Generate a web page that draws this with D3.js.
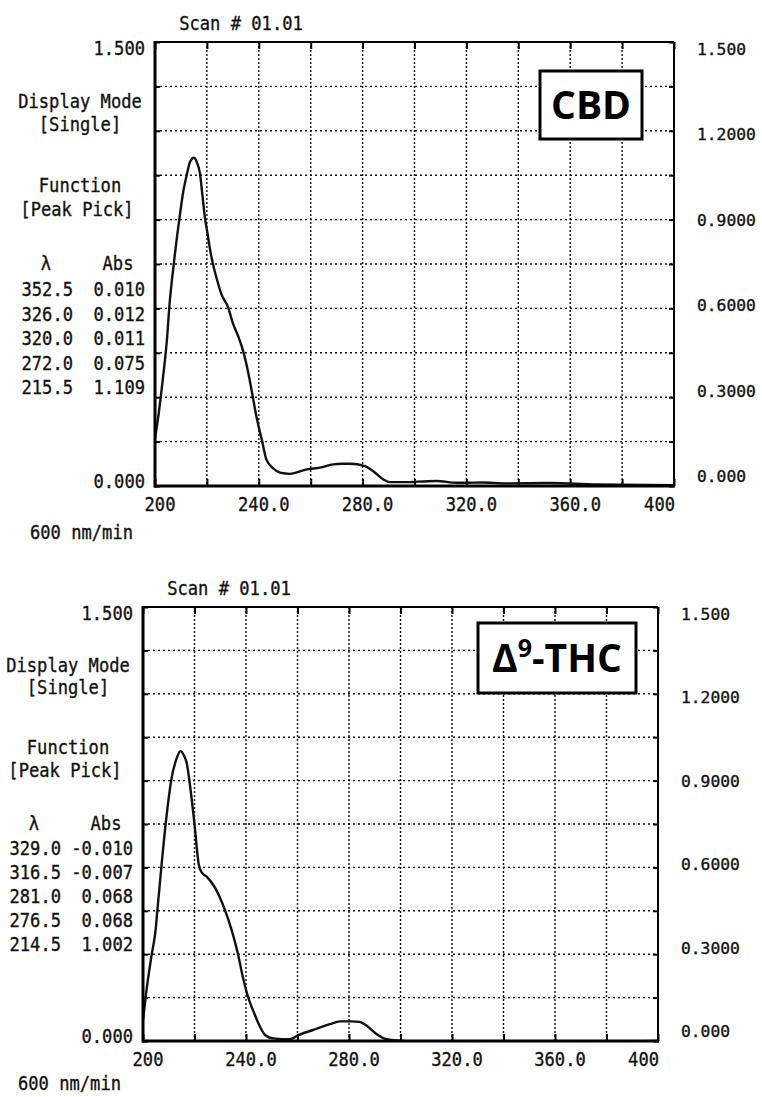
<!DOCTYPE html>
<html>
<head>
<meta charset="utf-8">
<script src="https://cdn.jsdelivr.net/npm/d3@7"></script>
<style>
  html, body { margin: 0; padding: 0; background: #fff; }
  svg { display: block; }
</style>
</head>
<body>
<svg id="chart" width="762" height="1097"></svg>
<script>
// ---------------- DATA ----------------
const wavelengthCBD = [200, 201.5, 203, 204.7, 205.5, 207.3, 209.4, 211, 212.4, 213.5, 215, 216.3, 217.3, 218.3, 219.3, 220.3, 221.2, 222.2, 223.8, 225.5, 228.2, 230, 232.1, 234, 236, 237.5, 239.2, 241.2, 242.9, 245.5, 248.2, 252, 258.5, 263.6, 268.7, 272, 275.1, 280.9, 284.1, 288, 290.6, 298, 300, 308.5, 316.2, 320, 326, 335, 352.5, 370, 400];
const absCBD = [0.16, 0.25, 0.36, 0.505, 0.603, 0.755, 0.903, 1.0, 1.057, 1.095, 1.109, 1.09, 1.057, 0.98, 0.903, 0.85, 0.80, 0.755, 0.70, 0.65, 0.603, 0.55, 0.505, 0.455, 0.38, 0.31, 0.23, 0.155, 0.09, 0.06, 0.045, 0.041, 0.056, 0.062, 0.073, 0.075, 0.075, 0.067, 0.05, 0.022, 0.013, 0.013, 0.014, 0.017, 0.011, 0.011, 0.012, 0.009, 0.010, 0.005, 0.003];

const wavelengthTHC = [200, 201, 202.2, 203.4, 204.9, 205.6, 207.2, 208.9, 211.1, 213, 214.5, 216, 217, 217.9, 219.9, 221.7, 223, 224.7, 228, 231.8, 234.4, 236.9, 238.8, 240.8, 243, 245.4, 247.5, 250.6, 257, 260.3, 266, 272.6, 276.5, 281, 284, 287, 290.8, 294.6, 298.5, 305, 316.5, 322, 329, 340, 360, 380, 400];
const absTHC = [0.07, 0.15, 0.23, 0.30, 0.384, 0.453, 0.608, 0.758, 0.908, 0.975, 1.002, 0.985, 0.96, 0.908, 0.758, 0.608, 0.58, 0.568, 0.529, 0.453, 0.384, 0.30, 0.22, 0.152, 0.10, 0.05, 0.02, 0.009, 0.006, 0.02, 0.038, 0.058, 0.068, 0.068, 0.066, 0.052, 0.023, 0.006, 0.002, -0.002, -0.007, -0.008, -0.010, -0.005, -0.003, -0.002, 0.0];

const xGridValues = [200, 220, 240, 260, 280, 300, 320, 340, 360, 380, 400];
const yGridValues = [0, 0.15, 0.3, 0.45, 0.6, 0.75, 0.9, 1.05, 1.2, 1.35, 1.5];
const xTickValues = [200, 240, 280, 320, 360, 400];
const xTickLabels = ["200", "240.0", "280.0", "320.0", "360.0", "400"];
const yRightValues = [1.5, 1.2, 0.9, 0.6, 0.3, 0];
const yRightLabels = ["1.500", "1.2000", "0.9000", "0.6000", "0.3000", "0.000"];

const peakLambdaCBD = ["352.5", "326.0", "320.0", "272.0", "215.5"];
const peakAbsCBD = ["0.010", "0.012", "0.011", "0.075", "1.109"];
const peakLambdaTHC = ["329.0", "316.5", "281.0", "276.5", "214.5"];
const peakAbsTHC = ["-0.010", "-0.007", "0.068", "0.068", "1.002"];

// ---------------- LAYOUT ----------------
const panels = [
  { x0: 155, x1: 674, y0: 42, y1: 486, wl: wavelengthCBD, ab: absCBD,
    peakL: peakLambdaCBD, peakA: peakAbsCBD, label: "CBD", rateDy: 53,
    box: { x: 540, y: 71, w: 102, h: 68 } },
  { x0: 143, x1: 658, y0: 607, y1: 1041, wl: wavelengthTHC, ab: absTHC,
    peakL: peakLambdaTHC, peakA: peakAbsTHC, label: "THC", rateDy: 49,
    box: { x: 478, y: 623, w: 158, h: 70 } }
];

const svg = d3.select("#chart");
const FONT = "'DejaVu Sans Mono', 'Liberation Mono', monospace";
const CHARW = 10.3;

function mono(g, str, x, y, anchor, cw, fs) {
  return g.append("text")
    .attr("x", x).attr("y", y)
    .attr("font-family", FONT)
    .attr("font-size", fs || 19.5)
    .attr("fill", "#111")
    .attr("stroke", "#111").attr("stroke-width", 0.35)
    .attr("text-anchor", anchor || "start")
    .attr("textLength", str.length * (cw || CHARW))
    .attr("lengthAdjust", "spacingAndGlyphs")
    .text(str);
}

panels.forEach((p, idx) => {
  const g = svg.append("g");
  const h = p.y1 - p.y0;
  const k = h / 444;
  const x = d3.scaleLinear().domain([200, 400]).range([p.x0, p.x1]);
  const y = d3.scaleLinear().domain([0, 1.5]).range([p.y1, p.y0]);
  const yLab = d3.scaleLinear().domain([0, 1.5]).range([p.y1 - 4, p.y0 + 13]);

  // grid
  g.append("g").selectAll("line").data(xGridValues.slice(1, -1)).join("line")
    .attr("x1", d => x(d)).attr("x2", d => x(d))
    .attr("y1", p.y0).attr("y2", p.y1)
    .attr("stroke", "#111").attr("stroke-width", 1.4)
    .attr("stroke-dasharray", "2,2");
  g.append("g").selectAll("line").data(yGridValues.slice(1, -1)).join("line")
    .attr("x1", p.x0).attr("x2", p.x1)
    .attr("y1", d => y(d)).attr("y2", d => y(d))
    .attr("stroke", "#111").attr("stroke-width", 1.4)
    .attr("stroke-dasharray", "2,3");

  // inward ticks
  const axStyle = sel => { sel.select(".domain").remove(); sel.selectAll("line").attr("stroke", "#000").attr("stroke-width", 2); };
  g.append("g").attr("transform", `translate(0,${p.y1})`)
    .call(d3.axisBottom(x).tickValues(xGridValues).tickSize(-7).tickFormat(""))
    .call(axStyle);
  g.append("g").attr("transform", `translate(0,${p.y0})`)
    .call(d3.axisTop(x).tickValues(xGridValues).tickSize(-7).tickFormat(""))
    .call(axStyle);
  g.append("g").attr("transform", `translate(${p.x0},0)`)
    .call(d3.axisLeft(y).tickValues(yGridValues).tickSize(-5).tickFormat(""))
    .call(axStyle);
  g.append("g").attr("transform", `translate(${p.x1},0)`)
    .call(d3.axisRight(y).tickValues(yGridValues).tickSize(-5).tickFormat(""))
    .call(axStyle);

  // curve
  const clipId = "clip" + idx;
  svg.append("defs").append("clipPath").attr("id", clipId)
    .append("rect").attr("x", p.x0).attr("y", p.y0 - 2).attr("width", p.x1 - p.x0).attr("height", h + 1);
  const pts = p.wl.map((w, i) => [w, p.ab[i]]);
  g.append("path")
    .attr("clip-path", `url(#${clipId})`)
    .attr("d", d3.line().x(d => x(d[0])).y(d => y(d[1])).curve(d3.curveMonotoneX)(pts))
    .attr("fill", "none").attr("stroke", "#111").attr("stroke-width", 2.4)
    .attr("stroke-linejoin", "round");

  // frame
  g.append("line").attr("x1", p.x0).attr("x2", p.x1).attr("y1", p.y0).attr("y2", p.y0).attr("stroke", "#000").attr("stroke-width", 2);
  g.append("line").attr("x1", p.x1).attr("x2", p.x1).attr("y1", p.y0).attr("y2", p.y1).attr("stroke", "#000").attr("stroke-width", 2);
  g.append("line").attr("x1", p.x0).attr("x2", p.x0).attr("y1", p.y0 - 1).attr("y2", p.y1 + 1.5).attr("stroke", "#000").attr("stroke-width", 3);
  g.append("line").attr("x1", p.x0 - 1).attr("x2", p.x1 + 1).attr("y1", p.y1).attr("y2", p.y1).attr("stroke", "#000").attr("stroke-width", 3);

  // x tick labels
  xTickValues.forEach((v, i) => {
    if (i === xTickValues.length - 1) mono(g, xTickLabels[i], x(v) + 1, p.y1 + 25, "end");
    else mono(g, xTickLabels[i], x(v) + 5, p.y1 + 25, "middle");
  });

  // right labels
  yRightValues.forEach((v, i) => mono(g, yRightLabels[i], p.x1 + 23, yLab(v), "start", 9.8, 16.5));

  // left texts
  const cx = p.x0 - 75;
  mono(g, "Scan # 01.01", p.x0 + 86, p.y0 - 12, "middle");
  mono(g, "1.500", p.x0 - 10, p.y0 + 13, "end");
  mono(g, "0.000", p.x0 - 10, p.y1 + 2, "end");
  mono(g, "Display Mode", cx, p.y0 + 66 * k, "middle");
  mono(g, "[Single]", cx, p.y0 + 89 * k, "middle");
  mono(g, "Function", cx, p.y0 + 150 * k, "middle");
  mono(g, "[Peak Pick]", cx - 3, p.y0 + 174 * k, "middle");
  mono(g, "\u03bb", p.x0 - 109, p.y0 + 228 * k, "middle");
  mono(g, "Abs", p.x0 - 37, p.y0 + 228 * k, "middle");
  p.peakL.forEach((s, i) => {
    const yy = p.y0 + (254 + i * 24.6) * k;
    mono(g, s, p.x0 - 82, yy, "end");
    mono(g, p.peakA[i], p.x0 - 10, yy, "end");
  });
  mono(g, "600 nm/min", p.x0 - 125, p.y1 + p.rateDy, "start");

  // label box
  const b = p.box;
  g.append("rect").attr("x", b.x).attr("y", b.y).attr("width", b.w).attr("height", b.h)
    .attr("fill", "#fff").attr("stroke", "#000").attr("stroke-width", 3);
  const t = g.append("text")
    .attr("x", b.x + b.w / 2).attr("y", b.y + b.h / 2 + 14)
    .attr("text-anchor", "middle")
    .attr("font-family", "'Open Sans', 'Noto Sans', sans-serif")
    .attr("font-weight", "bold").attr("font-size", 39).attr("fill", "#000");
  if (p.label === "THC") {
    t.append("tspan").text("\u0394");
    t.append("tspan").attr("font-size", 25).attr("dy", -15).text("9");
    t.append("tspan").attr("dy", 15).text("-THC");
  } else {
    t.text(p.label);
  }
});
</script>
</body>
</html>
